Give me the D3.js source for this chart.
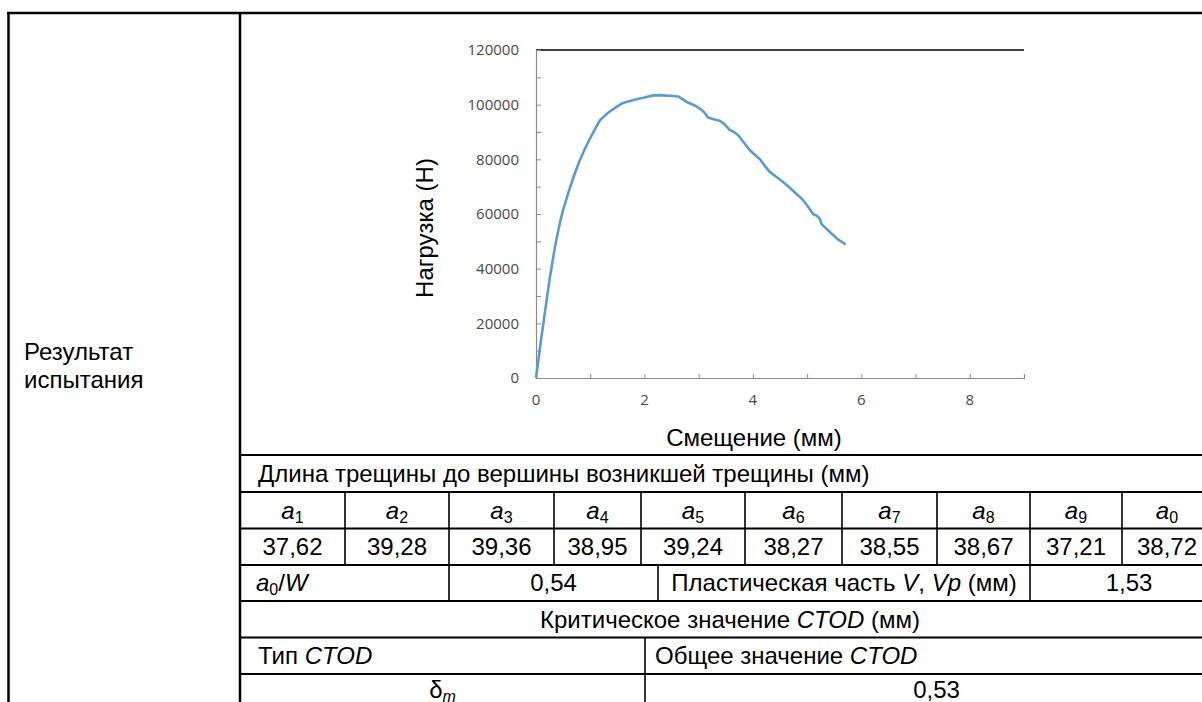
<!DOCTYPE html>
<html><head><meta charset="utf-8">
<script src="https://cdn.jsdelivr.net/npm/d3@7"></script>
<style>
html,body{margin:0;padding:0;background:#fff;}
svg{display:block;}
</style></head>
<body>
<svg id="c" width="1202" height="702"></svg>
<script>
// ---------- DATA ----------
const displacement = [0,0.05,0.10,0.15,0.20,0.25,0.30,0.35,0.40,0.45,0.50,0.60,0.70,0.80,0.90,1.00,1.10,1.18,1.27,1.36,1.47,1.58,1.70,1.85,2.00,2.16,2.30,2.41,2.52,2.62,2.70,2.78,2.92,3.05,3.12,3.17,3.28,3.39,3.48,3.57,3.65,3.73,3.84,3.94,4.03,4.13,4.22,4.31,4.43,4.55,4.68,4.80,4.88,4.95,5.03,5.11,5.18,5.23,5.27,5.32,5.40,5.48,5.56,5.66,5.71];
const load = [0,7500,15000,22000,29000,36000,42000,48000,53000,57500,61500,68000,74000,79300,83800,87800,91500,94300,96000,97500,99000,100400,101200,102000,102600,103400,103500,103300,103200,103000,102000,101000,99800,98200,96800,95300,94700,94100,92800,90800,90000,88800,86000,83400,81800,80000,77600,75400,73600,71800,69600,67400,66000,64500,62300,60000,59300,58400,56200,55300,53800,52300,50800,49500,48800];
const yTickLabels = [0,20000,40000,60000,80000,100000,120000];
const xTickLabels = [0,2,4,6,8];
const yTitle = "Нагрузка (Н)";
const xTitle = "Смещение (мм)";
const leftLabel = ["Результат","испытания"];
const crackTitle = "Длина трещины до вершины возникшей трещины (мм)";
const crackIdx = ["1","2","3","4","5","6","7","8","9","0"];
const crackValues = ["37,62","39,28","39,36","38,95","39,24","38,27","38,55","38,67","37,21","38,72"];
const a0W = "0,54";
const vpValue = "1,53";
const ctodValue = "0,53";

// ---------- SETUP ----------
const svg = d3.select("#c");
const TF = "'Liberation Sans', Arial, sans-serif";
const CF = "'Open Sans', sans-serif";

// ---------- CHART ----------
const x = d3.scaleLinear().domain([0,9]).range([536,1024]);
const y = d3.scaleLinear().domain([0,120000]).range([378,50]);
const axisCol = "#8a8a8a", tickTxt = "#4a4a4a";

svg.append("line").attr("x1",x(0)).attr("x2",x(9)).attr("y1",y(120000)).attr("y2",y(120000))
  .attr("stroke","#000").attr("stroke-width",1.5);

const gy = svg.append("g").attr("transform",`translate(${x(0)},0)`)
  .call(d3.axisRight(y).tickValues(d3.range(0,120001,10000)).tickSize(5).tickFormat(""));
gy.select(".domain").attr("stroke",axisCol).attr("stroke-width",1.2);
gy.selectAll(".tick line").attr("stroke",axisCol);
svg.append("g").selectAll("text").data(yTickLabels).join("text")
  .attr("x",x(0)-17).attr("y",d=>y(d)).attr("dy","0.35em").attr("text-anchor","end")
  .attr("font-family",CF).attr("font-size",15).attr("fill",tickTxt).text(d=>d);

const gx = svg.append("g").attr("transform",`translate(0,${y(0)})`)
  .call(d3.axisTop(x).tickValues(d3.range(0,10,1)).tickSize(4).tickFormat(""));
gx.select(".domain").attr("stroke",axisCol).attr("stroke-width",1.2);
gx.selectAll(".tick line").attr("stroke",axisCol);
svg.append("g").selectAll("text").data(xTickLabels).join("text")
  .attr("x",d=>x(d)).attr("y",y(0)+22).attr("dy","0.35em").attr("text-anchor","middle")
  .attr("font-family",CF).attr("font-size",15).attr("fill",tickTxt).text(d=>d);

const pts = displacement.map((d,i)=>[d,load[i]]);
svg.append("path").datum(pts)
  .attr("d",d3.line().x(d=>x(d[0])).y(d=>y(d[1])))
  .attr("fill","none").attr("stroke","#5B9BD5").attr("stroke-width",2.6).attr("stroke-linejoin","round");

svg.append("text").attr("transform","translate(425,228) rotate(-90)").attr("text-anchor","middle")
  .attr("dy","0.35em").attr("font-family",TF).attr("font-size",24).attr("fill","#000").text(yTitle);
svg.append("text").attr("x",754).attr("y",438).attr("dy","0.35em").attr("text-anchor","middle")
  .attr("font-family",TF).attr("font-size",24).attr("fill","#000").text(xTitle);

// ---------- TABLE ----------
const R = 1212;
const rowsY = [455,492,528.5,565,601,637.5,674,711];
const ln = (x1,y1,x2,y2,w)=>svg.append("line").attr("x1",x1).attr("y1",y1).attr("x2",x2).attr("y2",y2)
  .attr("stroke","#000").attr("stroke-width",w||2);

ln(7,13,1210,13,2.5);
ln(8.5,12,8.5,702,2.5);
ln(240,12,240,702,2.5);
rowsY.forEach(v=>ln(240,v,1210,v,2));
const colX = [240,345,449,554,641,745,842,937,1030,1122,R];
colX.slice(1,-1).forEach(v=>ln(v,rowsY[1],v,rowsY[3],1.6));
[449,658,1030].forEach(v=>ln(v,rowsY[3],v,rowsY[4],1.6));
ln(645,rowsY[5],645,rowsY[7],1.6);

function txt(xp,yp,anchor){
  return svg.append("text").attr("x",xp).attr("y",yp).attr("dy","0.35em")
    .attr("text-anchor",anchor||"middle").attr("font-family",TF).attr("font-size",24).attr("fill","#000");
}
const mid = i => (rowsY[i]+rowsY[i+1])/2;

leftLabel.forEach((s,i)=>txt(24,352+i*28,"start").text(s));

txt(258,mid(0),"start").text(crackTitle);

crackIdx.forEach((s,i)=>{
  const cx=(colX[i]+colX[i+1])/2;
  const t=txt(cx,mid(1));
  t.append("tspan").attr("font-style","italic").text("a");
  t.append("tspan").attr("font-size",16).attr("dy",4).text(s);
  txt(cx,mid(2)).text(crackValues[i]);
});

{
  const t=txt(256,mid(3),"start");
  t.append("tspan").attr("font-style","italic").text("a");
  t.append("tspan").attr("font-size",16).attr("dy",4).text("0");
  t.append("tspan").attr("dy",-4).text("/");
  t.append("tspan").attr("font-style","italic").text("W");
  txt((449+658)/2,mid(3)).text(a0W);
  const p=txt((658+1030)/2,mid(3));
  p.append("tspan").text("Пластическая часть ");
  p.append("tspan").attr("font-style","italic").text("V");
  p.append("tspan").text(", ");
  p.append("tspan").attr("font-style","italic").text("Vp");
  p.append("tspan").text(" (мм)");
  txt((1030+R)/2+8,mid(3)).text(vpValue);
}
{
  const t=txt((240+R)/2+4,mid(4));
  t.append("tspan").text("Критическое значение ");
  t.append("tspan").attr("font-style","italic").text("CTOD");
  t.append("tspan").text(" (мм)");
}
{
  const t=txt(258,mid(5),"start");
  t.append("tspan").text("Тип ");
  t.append("tspan").attr("font-style","italic").text("CTOD");
  const u=txt(655,mid(5),"start");
  u.append("tspan").text("Общее значение ");
  u.append("tspan").attr("font-style","italic").text("CTOD");
}
{
  const t=txt((240+645)/2,mid(6)-3);
  t.append("tspan").text("δ");
  t.append("tspan").attr("font-size",16).attr("font-style","italic").attr("dy",4).text("m");
  txt((645+R)/2+8,mid(6)-3).text(ctodValue);
}
</script>
</body></html>
